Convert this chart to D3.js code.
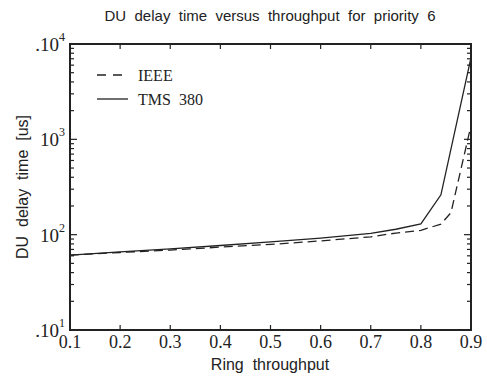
<!DOCTYPE html>
<html>
<head>
<meta charset="utf-8">
<script src="https://cdn.jsdelivr.net/npm/d3@7"></script>
<style>
body { margin: 0; background: #fff; }
</style>
</head>
<body>
<svg width="487" height="382"></svg>
<script>
const width = 487;
const height = 382;

// data
const ieeeX = [0.1, 0.2, 0.3, 0.4, 0.5, 0.6, 0.7, 0.75, 0.8, 0.84, 0.86, 0.9];
const ieeeY = [61, 65, 69, 74, 79, 86, 95, 104, 111, 129, 170, 1400];
const tmsX = [0.1, 0.2, 0.3, 0.4, 0.5, 0.6, 0.7, 0.75, 0.8, 0.84, 0.9];
const tmsY = [61, 66, 71, 77, 84, 92, 103, 114, 130, 262, 7200];
const xTicks = [0.1, 0.2, 0.3, 0.4, 0.5, 0.6, 0.7, 0.8, 0.9];
const yDecades = [1, 2, 3, 4];

const mLeft = 70, mRight = 471, mTop = 44, mBottom = 330;
const serif = "Liberation Serif, Times New Roman, serif";
const sans = "Liberation Sans, Arial, sans-serif";

const svg = d3.select("svg");

const x = d3.scaleLinear().domain([0.1, 0.9]).range([mLeft, mRight]);
const y = d3.scaleLog().domain([10, 10000]).range([mBottom, mTop]);

//--------------------ticks--------------------
// x ticks, inward on bottom and top
xTicks.forEach(t => {
    svg.append("line")
        .attr("x1", x(t)).attr("x2", x(t))
        .attr("y1", mBottom).attr("y2", mBottom - 5)
        .attr("stroke", "#222").attr("stroke-width", 1.2);
    svg.append("line")
        .attr("x1", x(t)).attr("x2", x(t))
        .attr("y1", mTop).attr("y2", mTop + 5)
        .attr("stroke", "#222").attr("stroke-width", 1.2);
    svg.append("text")
        .attr("x", x(t))
        .attr("y", mBottom + 18)
        .attr("text-anchor", "middle")
        .attr("font-family", serif)
        .attr("font-size", 18)
        .attr("fill", "#222")
        .text(t.toFixed(1));
});

// y ticks, log: major at decades, minor 2..9
for (let d = 1; d <= 4; d++) {
    const base = Math.pow(10, d);
    const vals = [base];
    if (d < 4) for (let m = 2; m <= 9; m++) vals.push(base * m);
    vals.forEach((v, i) => {
        const len = i == 0 ? 7 : 4;
        svg.append("line")
            .attr("x1", mLeft).attr("x2", mLeft + len)
            .attr("y1", y(v)).attr("y2", y(v))
            .attr("stroke", "#222").attr("stroke-width", 1.2);
        svg.append("line")
            .attr("x1", mRight).attr("x2", mRight - len)
            .attr("y1", y(v)).attr("y2", y(v))
            .attr("stroke", "#222").attr("stroke-width", 1.2);
    });
}

yDecades.forEach(d => {
    const t = svg.append("text")
        .attr("x", mLeft - 5)
        .attr("y", y(Math.pow(10, d)) + 7)
        .attr("text-anchor", "end")
        .attr("font-family", serif)
        .attr("font-size", 19)
        .attr("fill", "#222");
    t.append("tspan").text((d == 1 || d == 4 ? "." : "") + "10");
    t.append("tspan")
        .attr("font-size", 12)
        .attr("dy", -10)
        .text(d);
});

//--------------------frame--------------------
svg.append("rect")
    .attr("x", mLeft).attr("y", mTop)
    .attr("width", mRight - mLeft).attr("height", mBottom - mTop)
    .attr("fill", "none")
    .attr("stroke", "#222")
    .attr("stroke-width", 2);

//--------------------lines--------------------
const line = d3.line()
    .x(d => x(d[0]))
    .y(d => y(d[1]));

svg.append("path")
    .datum(ieeeX.map((v, i) => [v, ieeeY[i]]))
    .attr("d", line)
    .attr("fill", "none")
    .attr("stroke", "#222")
    .attr("stroke-width", 1.3)
    .attr("stroke-dasharray", "9,5");

svg.append("path")
    .datum(tmsX.map((v, i) => [v, tmsY[i]]))
    .attr("d", line)
    .attr("fill", "none")
    .attr("stroke", "#222")
    .attr("stroke-width", 1.3);

//--------------------legend--------------------
svg.append("line")
    .attr("x1", 97).attr("x2", 127)
    .attr("y1", 75).attr("y2", 75)
    .attr("stroke", "#222").attr("stroke-width", 1.3)
    .attr("stroke-dasharray", "9,7");
svg.append("text")
    .attr("x", 138).attr("y", 81)
    .attr("font-family", serif)
    .attr("font-size", 16)
    .attr("fill", "#222")
    .text("IEEE");
svg.append("line")
    .attr("x1", 97).attr("x2", 128)
    .attr("y1", 99).attr("y2", 99)
    .attr("stroke", "#222").attr("stroke-width", 1.3);
svg.append("text")
    .attr("x", 138).attr("y", 105)
    .attr("font-family", serif)
    .attr("font-size", 16)
    .attr("fill", "#222")
    .attr("xml:space", "preserve")
    .text("TMS  380");

//--------------------titles--------------------
svg.append("text")
    .attr("x", 270).attr("y", 21)
    .attr("text-anchor", "middle")
    .attr("font-family", sans)
    .attr("font-size", 15)
    .attr("fill", "#222")
    .attr("xml:space", "preserve")
    .text("DU  delay  time  versus  throughput  for  priority  6");

svg.append("text")
    .attr("x", 270).attr("y", 370)
    .attr("text-anchor", "middle")
    .attr("font-family", sans)
    .attr("font-size", 16)
    .attr("fill", "#222")
    .attr("xml:space", "preserve")
    .text("Ring  throughput");

svg.append("text")
    .attr("transform", "translate(28,187) rotate(-90)")
    .attr("text-anchor", "middle")
    .attr("font-family", sans)
    .attr("font-size", 16)
    .attr("fill", "#222")
    .attr("xml:space", "preserve")
    .text("DU  delay  time  [us]");
</script>
</body>
</html>
